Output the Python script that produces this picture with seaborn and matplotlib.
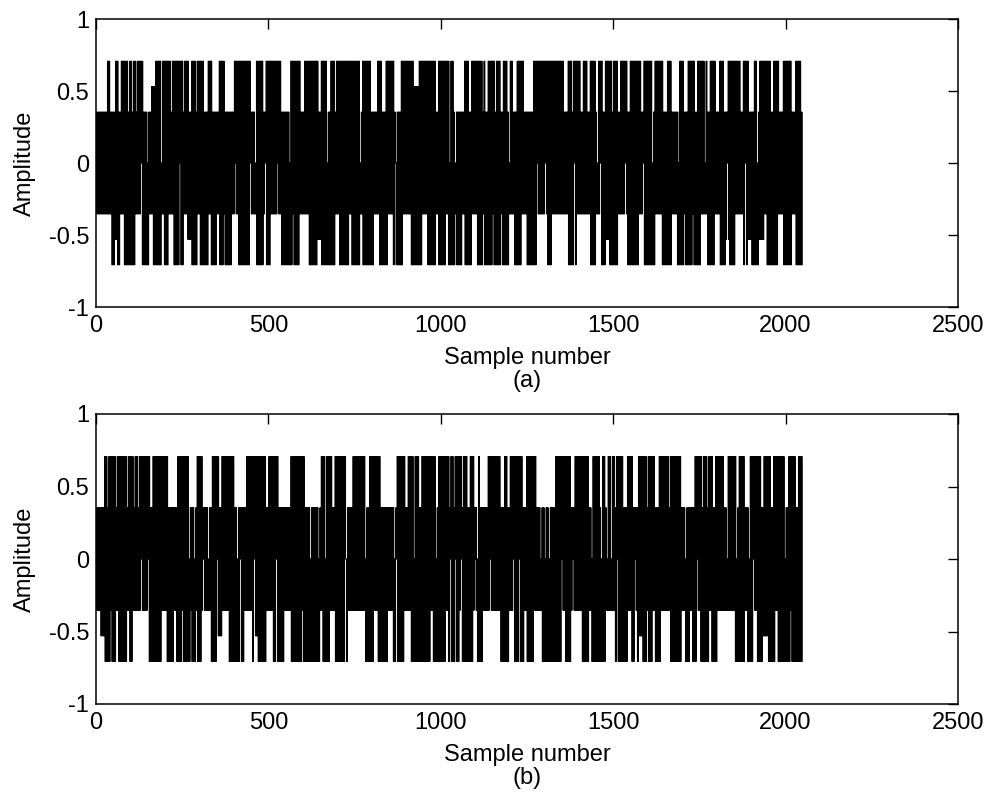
import numpy as np
import pandas as pd
import matplotlib
matplotlib.use("Agg")
import matplotlib.pyplot as plt
import seaborn as sns

# Amplitude levels used by the coded samples (digit d -> LEVELS[d])
LEVELS = [-0.7071, -0.5303, -0.3536, -0.1768, 0.0, 0.1768, 0.3536, 0.5303, 0.7071]

# Panel (a): 2048 samples, one digit per sample
SIGNAL_A_CODES = """
6262 6262 6262 6262 6262 6262 6262 6262 8282 8282 6262 6060 6060 6161 8181 8080
6060 6262 8282 8282 8080 8080 8080 6060 8080 8080 6060 8080 8282 6262 8282 8282
8484 8080 6060 6060 6060 4040 6262 6262 7272 7070 7070 8080 8080 8080 8080 4242
8282 8080 8080 8080 8282 8282 6262 8282 8080 8080 8080 8080 8484 8080 8080 6262
8282 8282 8181 6161 6161 8080 8080 8080 6060 8282 8282 8080 8080 8080 6060 6060
6060 8282 8282 8080 6060 6060 6060 6262 6262 8080 8080 8080 8282 6060 6060 6060
6060 6060 6262 6262 8484 8282 8282 8080 8080 8080 8080 8080 8080 8080 8080 8484
6262 6262 6262 4242 8080 8080 8080 8080 8080 6262 6464 8080 8080 8080 8282 8282
8282 8282 8282 8484 8282 8282 6060 6060 6060 6060 6060 6060 4040 8080 8282 8080
8080 8080 8080 8282 6262 6262 6262 8282 8282 8282 8080 8080 8080 8080 8080 8080
8181 6161 6161 8080 8080 8080 8080 4040 6060 6060 8080 8080 8080 6262 8282 8282
8080 8080 8080 8080 8080 8080 8080 8282 8282 8080 8080 8080 8080 8080 8080 4242
6262 8080 8080 8080 8080 8080 8080 6060 6060 6262 6262 6262 8282 8080 8080 6060
6060 6060 8080 8282 8282 8282 8282 8080 6464 4040 6060 6060 6060 8080 8282 8282
8282 8282 8282 8282 8080 8080 7070 7070 7070 7070 8080 8080 8282 8282 8282 8282
8080 8080 8080 8080 8080 8080 6262 6262 8080 8080 8080 8080 8080 8282 8282 8080
4040 8080 8080 6060 4242 6060 6060 6060 6060 6262 6262 8080 8080 8080 6060 6060
8282 8282 8282 8282 8080 8080 8080 8080 6262 8080 6060 6060 8080 8080 8080 8282
8080 6060 8080 8080 8080 6262 6060 8080 8080 8080 6060 4242 8282 8282 6262 6060
6060 8080 8080 8080 8282 8282 6262 6262 6060 6060 6060 6060 6060 8080 8080 8484
8282 8282 8282 8282 8282 8484 8282 8080 8080 8080 8282 8282 8282 8282 8282 8282
8282 8282 8282 6262 6262 6262 8080 8080 8080 6060 8484 8080 8282 8282 8282 6262
6262 8282 8282 8282 6262 6262 8080 8080 8080 8080 6262 4242 8282 8484 8080 6060
6060 8181 8181 8181 8080 8080 6060 8080 8080 8080 6262 6262 8282 8282 8282 8484
8282 6060 6060 8080 8080 8080 8080 8080 8080 8282 8282 6262 6464 8080 8080 8080
8080 8080 8080 4040 6060 8282 8282 8282 8282 8282 8080 6060 6060 6060 8080 8080
8080 6262 6262 6262 6262 6060 4040 8080 8080 8080 6262 6060 6060 8080 8080 8080
8282 8080 6060 6060 8080 8080 8282 8282 8282 4242 8282 6060 6060 8080 8080 8080
8282 6262 6262 6262 8080 8080 8080 6060 6161 6464 8181 8080 8080 8080 8080 8282
8282 8282 8282 6262 6262 8080 8484 8080 8181 6161 6161 6060 6060 8080 8080 4040
6161 8181 8181 8181 8282 8282 8080 8080 8080 6060 6060 8080 8080 8080 8282 6262
6262 6262 8080 8080 8080 8080 8080 8080 6262 6262 6262 8080 8080 8080 8080 6060
"""

# Panel (b): 2048 samples, one digit per sample
SIGNAL_B_CODES = """
6262 6262 6262 6161 6161 6161 8080 8080 6060 8080 8282 8080 8080 8080 6262 8282
8080 8080 8080 8080 8080 8080 6262 8282 8080 8080 8282 6262 8282 8282 6262 8282
8484 8282 8282 8282 8282 8484 8080 6060 6060 8080 8080 8080 8080 8080 8080 8282
8282 8282 8282 8080 6060 6060 6060 6060 6262 6262 6060 8080 8080 8080 8282 8080
8080 8080 8080 4040 6262 6060 6060 4040 6262 8080 8080 8080 8282 6464 6262 6262
6262 4242 6262 6060 8080 8080 8080 8484 8181 6161 6161 8282 8282 8282 8282 8282
8080 8080 8080 8080 6060 6060 4040 6060 6464 6060 6060 6262 6262 8282 8282 8282
8282 8080 8484 8181 8181 8080 8080 8080 8080 8080 8080 6262 6262 8282 8282 8282
8080 8080 8484 8080 6060 6060 6060 6060 6262 6262 6262 6262 6262 8080 8080 8080
8080 8080 8080 8080 8080 8282 8080 6060 6060 6060 6060 4040 6060 6060 6060 6060
6060 4040 6262 8282 8080 8080 4040 8080 8080 8282 8282 6262 6262 8080 8080 8080
8080 8080 8080 8080 8484 4040 6262 6262 6262 6262 8282 8282 8282 8282 8282 8282
8282 8282 8282 4040 6060 6060 8080 8080 8080 8282 8282 8282 8080 8080 6060 6060
6060 6060 6060 6262 6262 6262 6262 6060 4040 6464 8080 8080 8080 8080 8080 8282
6262 6262 8282 8282 8080 8080 4040 8080 8080 8080 6060 6060 8080 8080 8080 8080
8080 8080 8282 8282 8080 8080 4040 6060 8080 8080 8080 8080 8080 8282 8282 8080
6464 8080 8080 6060 8484 8080 8080 8282 8484 6060 8080 8080 8080 6060 6060 8080
8080 8282 6464 6262 4040 8080 6060 6060 6262 6262 6262 6262 8282 8484 8282 8282
8282 8282 8282 8282 8282 6060 6060 6060 8080 8080 6060 6262 8282 8282 8484 8080
8080 8080 8484 8080 8080 6060 6262 6262 8080 8080 8080 8080 8080 8282 8282 6262
6262 6262 4242 6060 6060 4040 6060 6060 4040 6060 6060 6060 6060 8080 8080 8080
8080 8484 8282 8282 8080 8080 8080 8080 6262 6464 6262 8282 8282 8282 8282 8282
8080 8080 8080 8080 8080 6262 6262 4040 8080 8080 8080 8080 8080 6060 4040 8080
8080 6262 4242 8282 8282 4242 8282 8282 6060 8484 8080 8080 8080 8080 6060 6060
6060 8282 8282 8282 8080 6060 6464 6262 6060 8181 8181 8181 8080 8080 8080 6262
8080 8080 8080 8282 8282 6060 6060 6060 8080 8282 8282 8282 8282 8282 8282 6262
8080 8080 8080 8080 8080 8080 8080 8080 6262 6262 6262 4040 6060 6060 6262 6262
6060 6060 8080 8484 8282 8282 8080 6060 8080 8080 8080 6060 8282 8282 8080 6060
6060 8080 8282 8282 8282 8282 8282 6262 6262 4242 8282 8282 8282 8282 8282 8080
4040 6060 8080 8080 8080 8080 6262 6262 6060 4040 8080 8080 8484 8282 8282 8080
8080 8080 6060 6161 8181 8181 8181 8080 8080 6060 6060 8080 8282 8282 8080 8080
8080 8080 8080 4040 6060 6060 8080 8282 8080 8080 8080 6060 6060 8080 8080 8080
"""

X_TICKS = [0, 500, 1000, 1500, 2000, 2500]
Y_TICKS = [-1, -0.5, 0, 0.5, 1]
Y_TICK_LABELS = ["-1", "-0.5", "0", "0.5", "1"]
PANEL_LABELS = ["(a)", "(b)"]
X_LABEL = "Sample number"
Y_LABEL = "Amplitude"


def decode(codes):
    digits = "".join(codes.split())
    return [LEVELS[int(c)] for c in digits]


sns.set_style("white")
plt.rcParams["font.family"] = ["Liberation Sans", "DejaVu Sans"]
plt.rcParams["text.color"] = "black"
plt.rcParams["axes.labelcolor"] = "black"
plt.rcParams["xtick.color"] = "black"
plt.rcParams["ytick.color"] = "black"

W, H = 988, 798
fig = plt.figure(figsize=(W / 100, H / 100), dpi=100)

# axes boxes in pixels: (left, top, right, bottom)
boxes = [(96, 19, 958, 307), (96, 414, 958, 704)]
signals = [decode(SIGNAL_A_CODES), decode(SIGNAL_B_CODES)]

FS = 17
for (l, t, r, b), sig, plab in zip(boxes, signals, PANEL_LABELS):
    ax = fig.add_axes([l / W, 1 - b / H, (r - l) / W, (b - t) / H])
    df = pd.DataFrame({"sample": np.arange(1, len(sig) + 1), "amplitude": sig})
    sns.lineplot(data=df, x="sample", y="amplitude", ax=ax, color="black",
                 linewidth=0.6, drawstyle="steps-post", estimator=None,
                 sort=False, legend=False)
    ax.set_xlim(0, 2500)
    ax.set_ylim(-1, 1)
    ax.set_xticks(X_TICKS)
    ax.set_xticklabels([str(v) for v in X_TICKS])
    ax.set_yticks(Y_TICKS)
    ax.set_yticklabels(Y_TICK_LABELS)
    ax.tick_params(direction="in", length=7, width=1.0, top=True, right=True,
                   labelsize=FS, colors="black", labelcolor="black")
    ax.tick_params(axis="x", pad=6)
    ax.tick_params(axis="y", pad=5)
    for sp in ax.spines.values():
        sp.set_visible(True)
        sp.set_color("black")
        sp.set_linewidth(1.1)
    ax.set_xlabel(X_LABEL, fontsize=FS, color="black")
    ax.set_ylabel(Y_LABEL, fontsize=FS, color="black")
    hpx = b - t
    ax.xaxis.set_label_coords(0.5, -40 / hpx)
    ax.yaxis.set_label_coords(-60 / (r - l), 0.5)
    fig.text(((l + r) / 2) / W, 1 - (b + 74) / H, plab, fontsize=FS,
             ha="center", va="center", color="black")

fig.savefig("out.png", dpi=100)
